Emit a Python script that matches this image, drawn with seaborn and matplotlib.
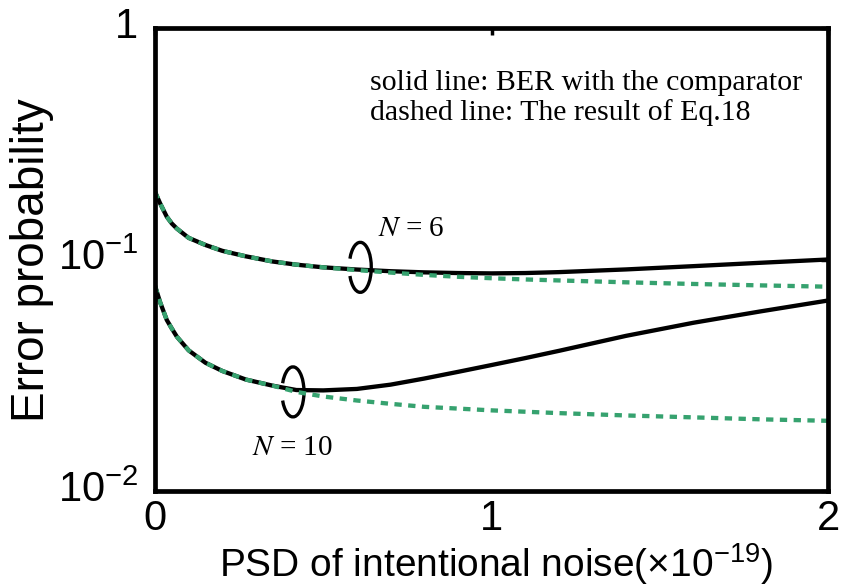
import numpy as np
import pandas as pd
import matplotlib
matplotlib.use("Agg")
import matplotlib.pyplot as plt
import matplotlib.transforms as mtransforms
from matplotlib.patches import Arc
from matplotlib.ticker import NullLocator, FixedLocator
import seaborn as sns

# ---- data ----
psd = [0, 0.015, 0.035, 0.05, 0.065, 0.1, 0.15, 0.2, 0.27, 0.35, 0.42, 0.5, 0.6,
       0.7, 0.8, 0.9, 1.0, 1.1, 1.2, 1.4, 1.6, 1.8, 2.0]
ber_n6_comp = [0.196, 0.175, 0.153, 0.143, 0.136, 0.124, 0.1155, 0.109, 0.1032,
               0.098, 0.0950, 0.0925, 0.0905, 0.0890, 0.0880, 0.0874, 0.0871,
               0.0874, 0.0882, 0.0906, 0.0936, 0.0968, 0.1000]
ber_n6_eq18 = [0.196, 0.175, 0.153, 0.143, 0.136, 0.124, 0.1155, 0.109, 0.1032,
               0.098, 0.0950, 0.0925, 0.0900, 0.0878, 0.0858, 0.0842, 0.0830,
               0.0820, 0.0812, 0.0797, 0.0784, 0.0773, 0.0763]
ber_n10_comp = [0.077, 0.0655, 0.0548, 0.0503, 0.0464, 0.0405, 0.0358, 0.0330,
                0.0303, 0.0285, 0.0273, 0.0272, 0.0276, 0.0288, 0.0306, 0.0327,
                0.0350, 0.0375, 0.0403, 0.0468, 0.0533, 0.0597, 0.0665]
ber_n10_eq18 = [0.077, 0.0655, 0.0548, 0.0503, 0.0464, 0.0405, 0.0358, 0.0330,
                0.0303, 0.0285, 0.0268, 0.0256, 0.0246, 0.0238, 0.0231, 0.0227,
                0.0223, 0.0220, 0.0217, 0.0212, 0.0208, 0.0204, 0.0201]
x_ticks = [0, 1, 2]
x_ticklabels = ["0", "1", "2"]
y_ticks = [1e-2, 1e-1, 1]
y_ticklabels = [r"$\mathregular{10^{-2}}$", r"$\mathregular{10^{-1}}$", "1"]

# ---- style ----
sns.set_theme(style="white")
plt.rcParams["font.family"] = ["Liberation Sans", "DejaVu Sans"]
plt.rcParams["text.color"] = "black"
plt.rcParams["axes.labelcolor"] = "black"
plt.rcParams["xtick.color"] = "black"
plt.rcParams["ytick.color"] = "black"
plt.rcParams["axes.linewidth"] = 3.4

W, H = 846, 588
fig = plt.figure(figsize=(W / 100, H / 100), dpi=100)
L, R, T, B = 155, 828, 28, 491
ax = fig.add_axes([L / W, 1 - B / H, (R - L) / W, (B - T) / H])

green = "#36a26f"
lw = 3.1
sns.lineplot(x=psd, y=ber_n6_comp, color="black", lw=lw, ax=ax,
             estimator=None, sort=False)
sns.lineplot(x=psd, y=ber_n10_comp, color="black", lw=lw, ax=ax,
             estimator=None, sort=False)
sns.lineplot(x=psd, y=ber_n6_eq18, color=green, lw=lw, ax=ax,
             estimator=None, sort=False, linestyle=(0, (1.7, 1.5)))
sns.lineplot(x=psd, y=ber_n10_eq18, color=green, lw=lw, ax=ax,
             estimator=None, sort=False, linestyle=(0, (1.7, 1.5)))

# annotation ellipses (pixel-sized arcs anchored at data points)
for (cx, cy) in [(0.61, 0.0925), (0.41, 0.0268)]:
    trans = fig.dpi_scale_trans + mtransforms.ScaledTranslation(cx, cy, ax.transData)
    arc = Arc((0, 0), 0.22, 0.50, theta1=-140, theta2=140, transform=trans,
              color="black", lw=2.4, clip_on=False)
    ax.add_artist(arc)

ax.set_yscale("log")
ax.set_xlim(0, 2)
ax.set_ylim(1e-2, 1)
ax.xaxis.set_major_locator(FixedLocator(x_ticks))
ax.set_xticklabels(x_ticklabels)
ax.yaxis.set_major_locator(FixedLocator(y_ticks))
ax.set_yticklabels(y_ticklabels)
ax.yaxis.set_minor_locator(NullLocator())
ax.xaxis.set_minor_locator(NullLocator())
ax.tick_params(axis="both", which="major", direction="in", length=5, width=2.5,
               top=True, right=True, labelsize=30, colors="black")
ax.tick_params(axis="x", pad=6)
ax.tick_params(axis="y", pad=12)
for s in ax.spines.values():
    s.set_color("black")
    s.set_linewidth(3.4)

# axis labels
fig.text(32 / W, 1 - 260 / H, "Error probability", rotation=90, ha="center",
         va="center", fontsize=33)
xlabel = r"PSD of intentional noise(×$\mathregular{10^{-19}}$)"
fig.text(496 / W, 1 - 577 / H, xlabel, ha="center", va="baseline", fontsize=28)

# legend-like text
serif = ["Liberation Serif", "DejaVu Serif"]
fig.text(370 / W, 1 - 90 / H, "solid line: BER with the comparator",
         ha="left", va="baseline", fontsize=21.5, family=serif)
fig.text(370 / W, 1 - 120 / H, "dashed line: The result of Eq.18",
         ha="left", va="baseline", fontsize=21.5, family=serif)

# N labels
fig.text(378 / W, 1 - 236 / H, r"$N$ = 6", ha="left", va="baseline",
         fontsize=21, family=serif, math_fontfamily="stix")
fig.text(252 / W, 1 - 455 / H, r"$N$ = 10", ha="left", va="baseline",
         fontsize=21, family=serif, math_fontfamily="stix")

# nudge y tick labels up slightly, as in the reference
shift = mtransforms.ScaledTranslation(0, 5 / 100, fig.dpi_scale_trans)
for lab in ax.get_yticklabels():
    lab.set_transform(lab.get_transform() + shift)

fig.savefig("out.png", dpi=100)
